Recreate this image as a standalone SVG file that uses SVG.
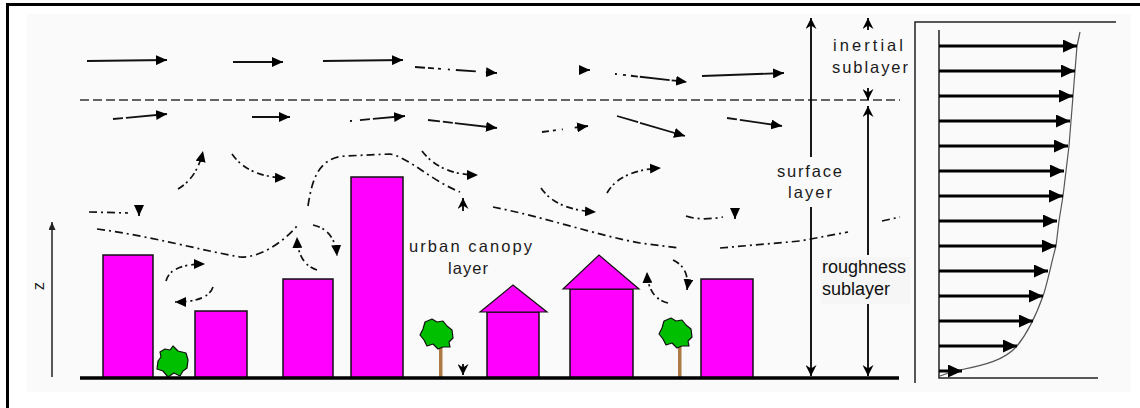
<svg xmlns="http://www.w3.org/2000/svg" width="1140" height="408" viewBox="0 0 1140 408">
  <style>
    .frame { fill: none; stroke: #000; stroke-width: 3; }
    .bldg { fill: #ff00ff; stroke: #111; stroke-width: 1.5; }
    .roof { fill: #ff00ff; stroke: #111; stroke-width: 1.2; stroke-linejoin: miter; }
    .leaf { fill: #00bf00; stroke: #111; stroke-width: 1.2; stroke-linejoin: round; }
    .trunk { fill: #ad7a45; }
    .ground { stroke: #000; stroke-width: 3.5; }
    .wind { fill: none; stroke: #111; stroke-width: 1.8; marker-end: url(#ah); }
    .flow { fill: none; stroke: #111; stroke-width: 1.7; stroke-dasharray: 7 3 2 4; marker-end: url(#ah); }
    .trace { fill: none; stroke: #111; stroke-width: 1.7; stroke-dasharray: 8 4 2 4; }
    .sep { fill: none; stroke: #333; stroke-width: 1.7; stroke-dasharray: 9 4; }
    .dim { fill: none; stroke: #000; stroke-width: 1.8; marker-end: url(#ahn); }
    .prof { fill: none; stroke: #000; stroke-width: 3; marker-end: url(#ahp); }
    .axis { fill: none; stroke: #222; stroke-width: 1.5; }
    .curve { fill: none; stroke: #555; stroke-width: 1.2; }
    .lbl { font-family: "Liberation Sans", Arial, sans-serif; font-size: 16.5px; fill: #1a1a1a; }
    .lbl2 { font-family: "Liberation Sans", Arial, sans-serif; font-size: 18px; fill: #111; }
  </style>
  <defs>
    <marker id="ah" markerUnits="userSpaceOnUse" markerWidth="11" markerHeight="10" refX="11" refY="5" orient="auto">
      <path d="M0,0 L11,5 L0,10 z" fill="#000"/>
    </marker>
    <marker id="ahn" markerUnits="userSpaceOnUse" markerWidth="11" markerHeight="11" refX="11" refY="5.5" orient="auto">
      <path d="M0,0 L11,5.5 L0,11 L3.5,5.5 z" fill="#000"/>
    </marker>
    <marker id="ahp" markerUnits="userSpaceOnUse" markerWidth="14" markerHeight="13" refX="14" refY="6.5" orient="auto">
      <path d="M0,0 L14,6.5 L0,13 z" fill="#000"/>
    </marker>
    <marker id="ahz" markerUnits="userSpaceOnUse" markerWidth="8" markerHeight="7" refX="8" refY="3.5" orient="auto">
      <path d="M0,0 L8,3.5 L0,7 z" fill="#222"/>
    </marker>
  </defs>

  <!-- page -->
  <rect x="0" y="0" width="1140" height="408" fill="#fff"/>
  <rect x="27" y="14" width="1104" height="378" fill="#fafafa"/>
  <rect class="frame" x="7.5" y="4.5" width="1140" height="410"/>

  <!-- buildings -->
  <g id="building-1"><rect class="bldg" x="103" y="255" width="50" height="123"/></g>
  <g id="building-2"><rect class="bldg" x="195" y="311" width="52" height="67"/></g>
  <g id="building-3"><rect class="bldg" x="283" y="279" width="50" height="99"/></g>
  <g id="building-4"><rect class="bldg" x="351" y="177" width="52" height="201"/></g>
  <g id="house-1">
    <rect class="bldg" x="487" y="312" width="52" height="66"/>
    <polygon class="roof" points="480,312 513,285 547,312"/>
  </g>
  <g id="house-2">
    <rect class="bldg" x="570" y="289" width="63" height="89"/>
    <polygon class="roof" points="563,289 599,255 639,289"/>
  </g>
  <g id="building-5"><rect class="bldg" x="701" y="279" width="52" height="99"/></g>

  <!-- trees -->
  <g id="bush">
    <path class="leaf" d="M160,352 L165,349 L170,350 L173,346 L178,351 L186,353 L188,360 L187,368 L183,371 L180,376 L174,373 L168,377 L163,371 L157,369 L158,361 L161,357 Z"/>
  </g>
  <g id="tree-1">
    <rect class="trunk" x="439" y="344" width="3.5" height="34"/>
    <path class="leaf" d="M425,322 L432,319 L437,322 L443,321 L447,326 L452,330 L453,338 L449,342 L450,347 L443,347 L438,349 L433,344 L427,346 L424,340 L420,335 L423,329 Z"/>
  </g>
  <g id="tree-2">
    <rect class="trunk" x="678" y="343" width="3.5" height="35"/>
    <path class="leaf" d="M664,321 L671,318 L676,321 L682,320 L686,325 L691,329 L692,337 L688,341 L689,346 L682,346 L677,348 L672,343 L666,345 L663,339 L659,334 L662,328 Z"/>
  </g>

  <!-- ground -->
  <g id="ground"><line class="ground" x1="80" y1="378" x2="899" y2="378"/></g>

  <!-- height axis -->
  <g id="z-axis">
    <line class="axis" x1="52" y1="377" x2="52" y2="222" marker-end="url(#ahz)"/>
    <text class="lbl" x="0" y="0" font-size="14" text-anchor="middle" transform="translate(44,286) rotate(-90)">z</text>
  </g>

  <!-- wind and flow connectors -->
  <g id="connectors">
    <!-- layer boundary -->
    <line class="sep" x1="80" y1="100" x2="900" y2="100"/>

    <!-- upper flow row -->
    <path class="wind" d="M87,61 L167,60"/>
    <path class="wind" d="M233,62 L283,62"/>
    <path class="wind" d="M323,61 L403,60"/>
    <path class="wind" d="M415,67 L497,73" stroke-dasharray="10 3 6 4 3 7 2 6 20"/>
    <path class="wind" d="M580,70 L590,70"/>
    <path class="wind" d="M615,74 L687,82" stroke-dasharray="2 6 3 5 7 2 30"/>
    <path class="wind" d="M702,76 L784,73"/>

    <!-- lower flow row -->
    <path class="wind" d="M113,119 L167,114" stroke-dasharray="10 3 80"/>
    <path class="wind" d="M252,117 L290,117"/>
    <path class="wind" d="M350,121 L405,116" stroke-dasharray="2 8 10 3 80"/>
    <path class="wind" d="M428,120 L497,128" stroke-dasharray="12 3 10 2 80"/>
    <path class="wind" d="M542,132 L588,126" stroke-dasharray="7 4 3 6 1 12 30"/>
    <path class="wind" d="M617,116 L685,136" stroke-dasharray="22 2 80"/>
    <path class="wind" d="M727,118 L782,126" stroke-dasharray="10 3 80"/>

    <!-- eddies above the roofs -->
    <path class="flow" d="M178,189 Q197,178 203,151"/>
    <path class="flow" d="M232,154 Q248,177 286,178"/>
    <path class="trace" d="M308,206 C312,180 318,158 345,156 L390,154 C410,158 430,180 460,192"/>
    <path class="trace" d="M89,212 L128,213" stroke-dasharray="7 4 5 9 1 20"/>
    <path class="wind" d="M139,205 L139,216"/>
    <path class="trace" d="M97,229 C150,236 200,250 240,257 C262,258 285,240 297,226" stroke-dasharray="9 4 9 4 2 5"/>
    <path class="flow" d="M313,225 Q335,230 337,256"/>
    <path class="flow" d="M317,270 Q298,264 297,237"/>
    <path class="flow" d="M166,281 Q170,264 205,264"/>
    <path class="flow" d="M213,287 Q208,302 175,302"/>
    <path class="flow" d="M422,151 Q440,175 478,175" stroke-dasharray="9 3 5 3"/>
    <path class="trace" d="M493,207 C540,216 600,236 640,243 L680,248 M720,248 L800,241 L848,232 M882,221 L900,217" stroke-dasharray="2 6 7 3 8 4"/>
    <path class="flow" d="M541,188 Q556,210 596,212"/>
    <path class="flow" d="M607,193 Q620,170 661,168" stroke-dasharray="9 3 5 3"/>
    <path class="trace" d="M686,216 Q700,221 723,217" stroke-dasharray="9 3"/>
    <path class="wind" d="M735,208 L735,219"/>
    <path class="flow" d="M673,260 Q690,268 687,290" stroke-dasharray="5 3 2 3"/>
    <path class="flow" d="M668,303 Q648,298 647,272" stroke-dasharray="5 3 2 3"/>
    <path class="dim" d="M463,211 L463,198"/>
    <path class="dim" d="M463,364 L463,375"/>

    <!-- layer extents -->
    <path class="dim" d="M811,157 L811,18"/>
    <path class="dim" d="M811,207 L811,376"/>
    <path class="dim" d="M868,30 L868,18"/>
    <path class="dim" d="M868,88 L868,100"/>
    <path class="dim" d="M868,255 L868,106"/>
    <path class="dim" d="M868,303 L868,376"/>
  </g>

  <!-- labels -->
  <g id="labels">
    <text class="lbl" x="833" y="51" textLength="70" lengthAdjust="spacing">inertial</text>
    <text class="lbl" x="832" y="73" textLength="76" lengthAdjust="spacing">sublayer</text>
    <text class="lbl" x="777" y="177" textLength="65" lengthAdjust="spacing">surface</text>
    <text class="lbl" x="788" y="198" textLength="44" lengthAdjust="spacing">layer</text>
    <text class="lbl" x="409" y="252" textLength="123" lengthAdjust="spacing">urban canopy</text>
    <text class="lbl" x="448" y="274" textLength="40" lengthAdjust="spacing">layer</text>
    <rect x="821" y="257" width="89" height="47" fill="#f6f6f6"/>
    <text class="lbl2" x="822" y="273">roughness</text>
    <text class="lbl2" x="822" y="295">sublayer</text>
  </g>

  <!-- wind speed profile -->
  <g id="profile">
    <path class="axis" d="M915,383 L915,22 L1116,22"/>
    <path class="axis" d="M939,30 L939,378 L1098,378" stroke-width="2"/>
    <path class="curve" d="M1080,32 L1077,46 L1075,71 L1073,96 L1071,121 L1069,146 L1066,171 L1063,196 L1059,221 L1056,246 C1052,260 1047,285 1043,296 C1038,310 1030,330 1017,346 C1005,360 985,365 960,370 C950,372 945,374 940,376"/>
    <path class="prof" d="M939,46 L1077,46"/>
    <path class="prof" d="M939,71 L1075,71"/>
    <path class="prof" d="M939,96 L1073,96"/>
    <path class="prof" d="M939,121 L1070,121"/>
    <path class="prof" d="M939,146 L1068,146"/>
    <path class="prof" d="M939,171 L1064,171"/>
    <path class="prof" d="M939,196 L1063,196"/>
    <path class="prof" d="M939,221 L1057,221"/>
    <path class="prof" d="M939,246 L1056,246"/>
    <path class="prof" d="M939,271 L1048,271"/>
    <path class="prof" d="M939,296 L1043,296"/>
    <path class="prof" d="M939,321 L1033,321"/>
    <path class="prof" d="M939,346 L1017,346"/>
    <path class="prof" d="M939,371 L962,371"/>
  </g>
</svg>
